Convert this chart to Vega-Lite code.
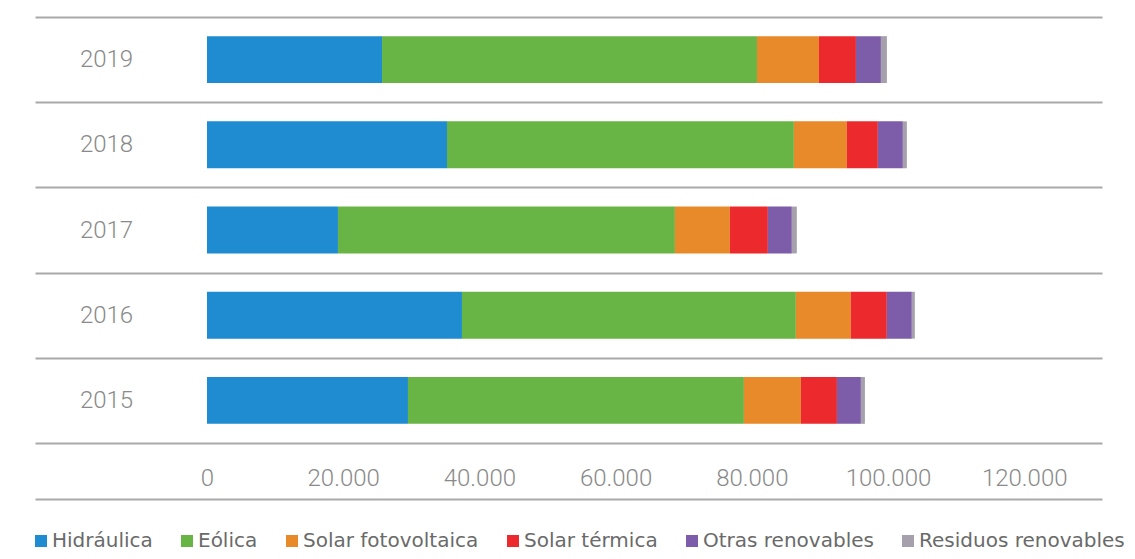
{
  "$schema": "https://vega.github.io/schema/vega-lite/v6.json",
  "autosize": {"type": "none"},
  "padding": {"left": 35, "top": 17, "right": 33, "bottom": 116},
  "width": 1067,
  "height": 426,
  "background": "#ffffff",
  "config": {"view": {"stroke": null}},
  "data": {
    "values": [
      {"anio": "2019", "fuente": "Hidráulica", "orden": 1, "valor": 25700},
      {"anio": "2019", "fuente": "Eólica", "orden": 2, "valor": 55060},
      {"anio": "2019", "fuente": "Solar fotovoltaica", "orden": 3, "valor": 9100},
      {"anio": "2019", "fuente": "Solar térmica", "orden": 4, "valor": 5430},
      {"anio": "2019", "fuente": "Otras renovables", "orden": 5, "valor": 3670},
      {"anio": "2019", "fuente": "Residuos renovables", "orden": 6, "valor": 880},
      {"anio": "2018", "fuente": "Hidráulica", "orden": 1, "valor": 35240},
      {"anio": "2018", "fuente": "Eólica", "orden": 2, "valor": 50940},
      {"anio": "2018", "fuente": "Solar fotovoltaica", "orden": 3, "valor": 7780},
      {"anio": "2018", "fuente": "Solar térmica", "orden": 4, "valor": 4550},
      {"anio": "2018", "fuente": "Otras renovables", "orden": 5, "valor": 3670},
      {"anio": "2018", "fuente": "Residuos renovables", "orden": 6, "valor": 590},
      {"anio": "2017", "fuente": "Hidráulica", "orden": 1, "valor": 19230},
      {"anio": "2017", "fuente": "Eólica", "orden": 2, "valor": 49480},
      {"anio": "2017", "fuente": "Solar fotovoltaica", "orden": 3, "valor": 8070},
      {"anio": "2017", "fuente": "Solar térmica", "orden": 4, "valor": 5580},
      {"anio": "2017", "fuente": "Otras renovables", "orden": 5, "valor": 3520},
      {"anio": "2017", "fuente": "Residuos renovables", "orden": 6, "valor": 730},
      {"anio": "2016", "fuente": "Hidráulica", "orden": 1, "valor": 37440},
      {"anio": "2016", "fuente": "Eólica", "orden": 2, "valor": 49030},
      {"anio": "2016", "fuente": "Solar fotovoltaica", "orden": 3, "valor": 8070},
      {"anio": "2016", "fuente": "Solar térmica", "orden": 4, "valor": 5290},
      {"anio": "2016", "fuente": "Otras renovables", "orden": 5, "valor": 3670},
      {"anio": "2016", "fuente": "Residuos renovables", "orden": 6, "valor": 440},
      {"anio": "2015", "fuente": "Hidráulica", "orden": 1, "valor": 29510},
      {"anio": "2015", "fuente": "Eólica", "orden": 2, "valor": 49330},
      {"anio": "2015", "fuente": "Solar fotovoltaica", "orden": 3, "valor": 8370},
      {"anio": "2015", "fuente": "Solar térmica", "orden": 4, "valor": 5290},
      {"anio": "2015", "fuente": "Otras renovables", "orden": 5, "valor": 3520},
      {"anio": "2015", "fuente": "Residuos renovables", "orden": 6, "valor": 590}
    ]
  },
  "mark": {"type": "bar", "height": {"band": 0.55}},
  "encoding": {
    "y": {
      "field": "anio",
      "type": "nominal",
      "sort": ["2019", "2018", "2017", "2016", "2015"],
      "scale": {"paddingInner": 0, "paddingOuter": 0},
      "axis": {
        "title": null,
        "domain": false,
        "ticks": false,
        "labelAlign": "center",
        "labelBaseline": "middle",
        "labelPadding": -71,
        "labelFont": "Roboto",
        "labelFontWeight": 300,
        "labelFontSize": 24,
        "labelColor": "#8a8a8a",
        "grid": true,
        "tickBand": "extent",
        "gridColor": "#a9a9a9",
        "gridWidth": 2
      }
    },
    "x": {
      "field": "valor",
      "type": "quantitative",
      "stack": "zero",
      "scale": {"domain": [-25257, 131424], "nice": false, "zero": false},
      "axis": {
        "title": null,
        "values": [0, 20000, 40000, 60000, 80000, 100000, 120000],
        "grid": false,
        "ticks": false,
        "domain": true,
        "domainColor": "#a9a9a9",
        "domainWidth": 2,
        "offset": 56,
        "labelPadding": -21,
        "labelBaseline": "middle",
        "labelFont": "Roboto",
        "labelFontWeight": 300,
        "labelFontSize": 24,
        "labelColor": "#8a8a8a",
        "labelDx": 5,
        "labelFlush": false,
        "labelOverlap": false,
        "labelExpr": "replace(format(datum.value, ','), ',', '.')"
      }
    },
    "color": {
      "field": "fuente",
      "type": "nominal",
      "scale": {
        "domain": ["Hidráulica", "Eólica", "Solar fotovoltaica", "Solar térmica", "Otras renovables", "Residuos renovables"],
        "range": ["#1f8bd1", "#68b545", "#e8892a", "#ec2a2d", "#7d5ca9", "#a5a0ab"]
      },
      "legend": {
        "title": null,
        "orient": "none",
        "direction": "horizontal",
        "columns": 6,
        "legendX": -4,
        "legendY": 514,
        "padding": 0,
        "symbolType": "square",
        "symbolSize": 144,
        "symbolStrokeWidth": 0,
        "symbolOpacity": 1,
        "labelFont": "DejaVu Sans",
        "labelFontSize": 20,
        "labelColor": "#6a6a6a",
        "labelOffset": 1,
        "labelLimit": 400,
        "columnPadding": 24
      }
    },
    "order": {"field": "orden", "type": "quantitative"}
  }
}
